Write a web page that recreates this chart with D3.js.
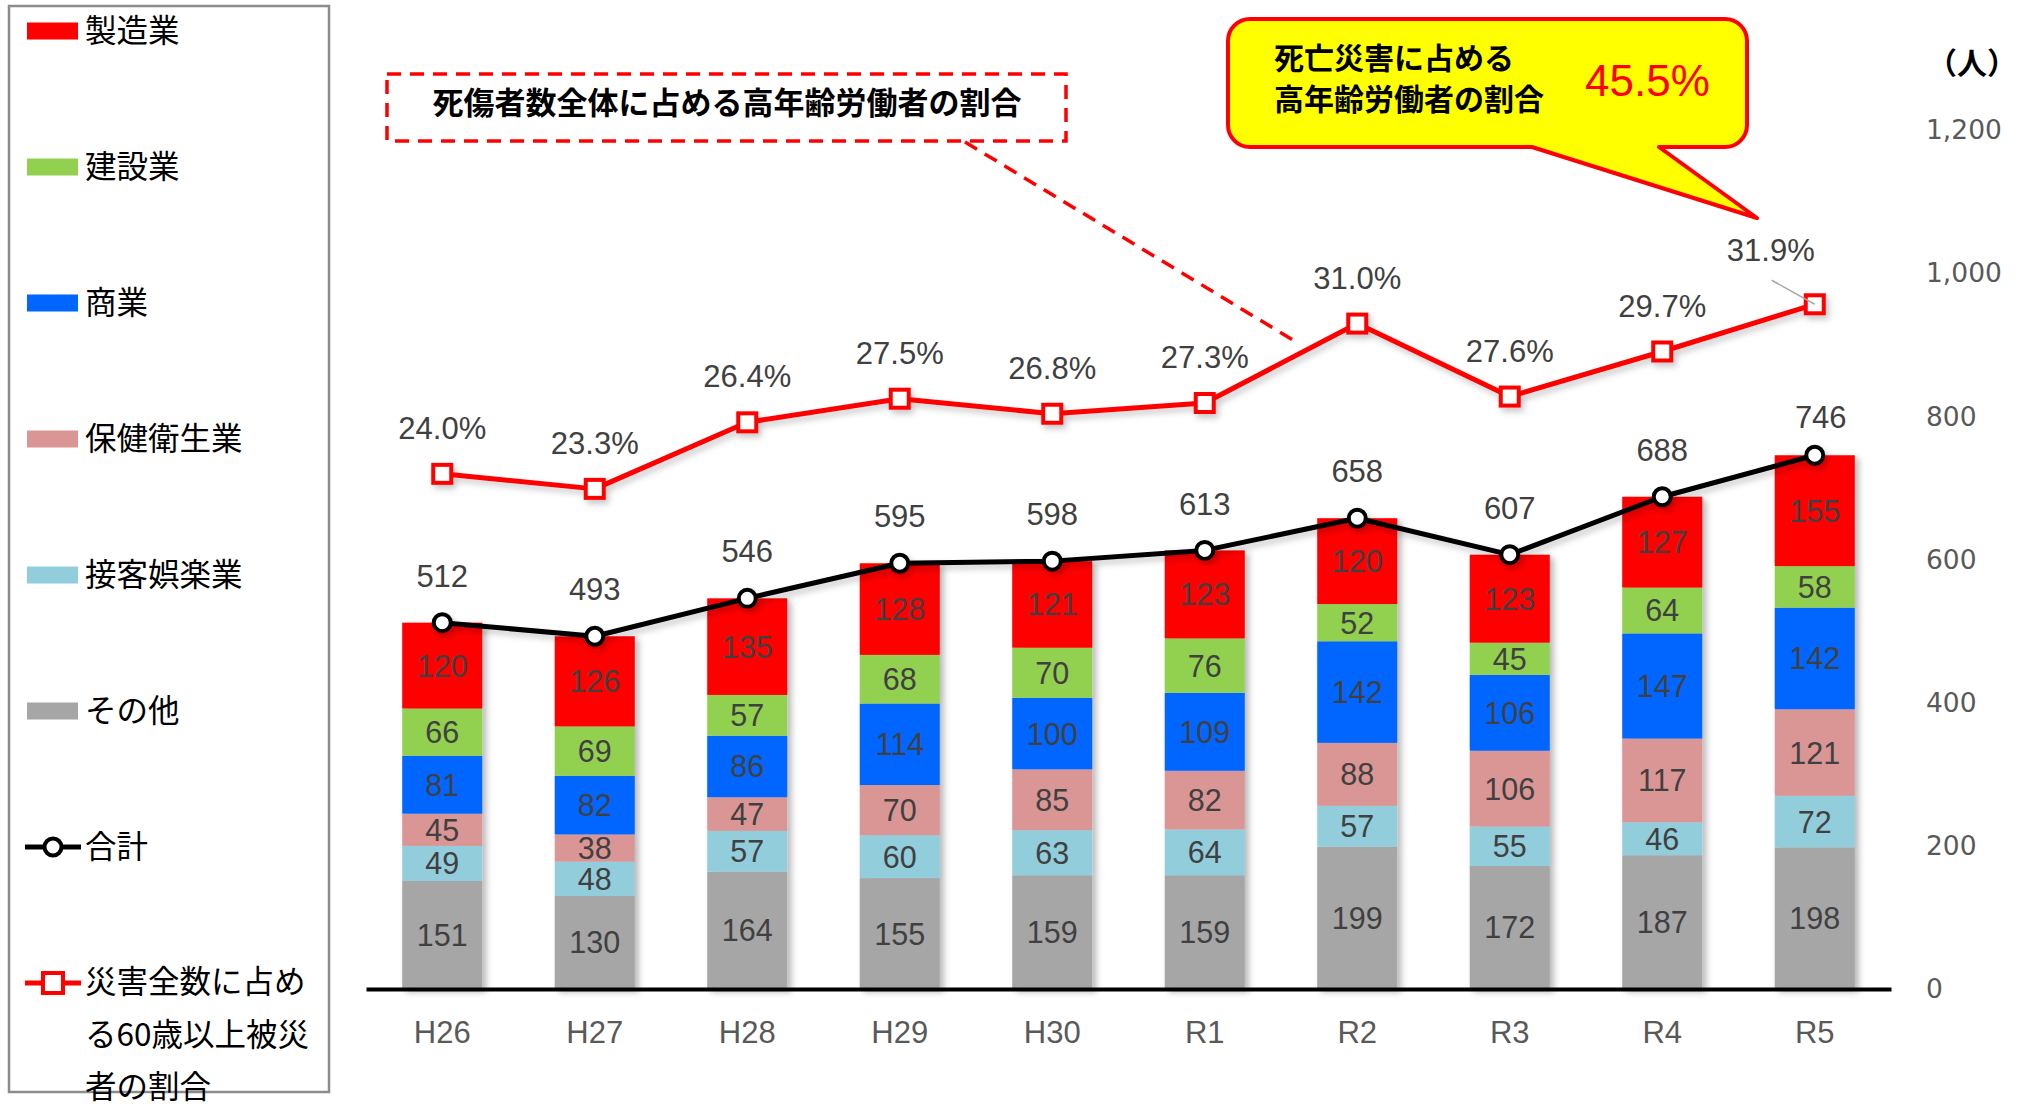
<!DOCTYPE html>
<html>
<head>
<meta charset="utf-8">
<script src="https://cdn.jsdelivr.net/npm/d3@7"></script>
<style>
  html, body { margin: 0; padding: 0; background: #fff; }
  svg { display: block; }
  .jp { font-family: "Noto Sans CJK JP", "Noto Sans", sans-serif; }
  .num { font-family: "Liberation Sans", Arial, sans-serif; }
</style>
</head>
<body>
<svg id="chart" width="2031" height="1104"></svg>
<script>
// ---------------- data ----------------
const categories = ["H26", "H27", "H28", "H29", "H30", "R1", "R2", "R3", "R4", "R5"];
const seriesNames = ["その他", "接客娯楽業", "保健衛生業", "商業", "建設業", "製造業"];
const other         = [151, 130, 164, 155, 159, 159, 199, 172, 187, 198];
const entertainment = [49, 48, 57, 60, 63, 64, 57, 55, 46, 72];
const health        = [45, 38, 47, 70, 85, 82, 88, 106, 117, 121];
const commerce      = [81, 82, 86, 114, 100, 109, 142, 106, 147, 142];
const construction  = [66, 69, 57, 68, 70, 76, 52, 45, 64, 58];
const manufacturing = [120, 126, 135, 128, 121, 123, 120, 123, 127, 155];
const totals        = [512, 493, 546, 595, 598, 613, 658, 607, 688, 746];
const ratioPct      = [24.0, 23.3, 26.4, 27.5, 26.8, 27.3, 31.0, 27.6, 29.7, 31.9];
const yTicks = [0, 200, 400, 600, 800, 1000, 1200];
const legendLabels = ["製造業", "建設業", "商業", "保健衛生業", "接客娯楽業", "その他", "合計"];
const legendRatioLines = ["災害全数に占め", "る60歳以上被災", "者の割合"];
const boxTitle = "死傷者数全体に占める高年齢労働者の割合";
const calloutLines = ["死亡災害に占める", "高年齢労働者の割合"];
const calloutValue = "45.5%";
const unitLabel = "（人）";

// ---------------- styles ----------------
const colors = {
  "その他": "#A6A6A6",
  "接客娯楽業": "#92CDDC",
  "保健衛生業": "#DA9694",
  "商業": "#0066FF",
  "建設業": "#92D050",
  "製造業": "#FF0000"
};
const seriesArrays = [other, entertainment, health, commerce, construction, manufacturing];

const svg = d3.select("#chart");
const defs = svg.append("defs");
const f1 = defs.append("filter").attr("id", "shadow").attr("x", "-20%").attr("y", "-10%").attr("width", "150%").attr("height", "130%");
f1.append("feDropShadow").attr("dx", 4).attr("dy", 3).attr("stdDeviation", 3).attr("flood-color", "#000").attr("flood-opacity", 0.28);
const f2 = defs.append("filter").attr("id", "lshadow").attr("x", "-10%").attr("y", "-30%").attr("width", "120%").attr("height", "160%");
f2.append("feDropShadow").attr("dx", 3).attr("dy", 4).attr("stdDeviation", 3).attr("flood-color", "#000").attr("flood-opacity", 0.22);

// ---------------- scales ----------------
const x = d3.scaleBand().domain(categories).range([366, 1891]).padding(0);
const cx = c => x(c) + x.bandwidth() / 2;
const barW = x.bandwidth() * 0.525;
const y = d3.scaleLinear().domain([0, 1200]).range([989, 130.4]);
const y2 = d3.scaleLinear().domain([0, 40]).range([989, 130.4]);

// rows for stack
const rows = categories.map((c, i) => {
  const r = { cat: c };
  seriesNames.forEach((s, k) => r[s] = seriesArrays[k][i]);
  return r;
});
const stacked = d3.stack().keys(seriesNames)(rows);

// ---------------- bars ----------------
const barsG = svg.append("g").attr("filter", "url(#shadow)");
stacked.forEach(layer => {
  barsG.append("g").attr("fill", colors[layer.key])
    .selectAll("rect").data(layer).join("rect")
    .attr("x", d => cx(d.data.cat) - barW / 2)
    .attr("y", d => y(d[1]))
    .attr("width", barW)
    .attr("height", d => y(d[0]) - y(d[1]));
});
// segment labels
const segLabels = svg.append("g").attr("class", "num").attr("font-size", 30.5).attr("fill", "#404040").attr("text-anchor", "middle");
stacked.forEach(layer => {
  segLabels.selectAll(null).data(layer).join("text")
    .attr("x", d => cx(d.data.cat))
    .attr("y", d => (y(d[0]) + y(d[1])) / 2)
    .attr("dy", "0.36em")
    .text(d => d[1] - d[0]);
});

// ---------------- axes ----------------
const xAxis = svg.append("g").attr("transform", `translate(0,${y(0)})`)
  .call(d3.axisBottom(x).tickSize(0).tickSizeOuter(0).tickPadding(32));
xAxis.select(".domain").attr("stroke", "#000").attr("stroke-width", 4);
xAxis.selectAll("text").attr("class", "num").attr("font-size", 31).attr("fill", "#595959");

const yAxis = svg.append("g").attr("transform", "translate(1916,0)")
  .call(d3.axisRight(y).tickValues(yTicks).tickFormat(d3.format(",")).tickSize(0).tickPadding(10));
yAxis.select(".domain").remove();
yAxis.selectAll("text").attr("font-family", "'DejaVu Sans', sans-serif").attr("font-size", 26.5).attr("fill", "#595959");

svg.append("text").attr("class", "jp").attr("x", 1927).attr("y", 63).attr("dy", "0.35em")
  .attr("font-size", 30).attr("font-weight", "bold").attr("fill", "#000").text(unitLabel);

// ---------------- ratio line (secondary axis 0–40%) ----------------
const ratioLine = d3.line().x((d, i) => cx(categories[i])).y(d => y2(d));
const ratioG = svg.append("g").attr("filter", "url(#lshadow)");
ratioG.append("path").datum(ratioPct).attr("d", ratioLine)
  .attr("fill", "none").attr("stroke", "#FF0000").attr("stroke-width", 5).attr("stroke-linejoin", "round");
ratioG.selectAll("rect").data(ratioPct).join("rect")
  .attr("x", (d, i) => cx(categories[i]) - 9).attr("y", d => y2(d) - 9)
  .attr("width", 18).attr("height", 18)
  .attr("fill", "#fff").attr("stroke", "#FF0000").attr("stroke-width", 4);

// ---------------- total line ----------------
const totalLine = d3.line().x((d, i) => cx(categories[i])).y(d => y(d));
const totG = svg.append("g").attr("filter", "url(#lshadow)");
totG.append("path").datum(totals).attr("d", totalLine)
  .attr("fill", "none").attr("stroke", "#000").attr("stroke-width", 5).attr("stroke-linejoin", "round");
totG.selectAll("circle").data(totals).join("circle")
  .attr("cx", (d, i) => cx(categories[i])).attr("cy", d => y(d)).attr("r", 8.5)
  .attr("fill", "#fff").attr("stroke", "#000").attr("stroke-width", 4);

// total labels
const last = ratioPct.length - 1;
svg.append("g").attr("class", "num").attr("font-size", 31).attr("fill", "#404040").attr("text-anchor", "middle")
  .selectAll("text").data(totals).join("text")
  .attr("x", (d, i) => cx(categories[i]) + (i === last ? 6 : 0))
  .attr("y", (d, i) => y(d) - (i === last ? 38 : 47)).attr("dy", "0.36em")
  .text(d => d);

// ratio labels
svg.append("g").attr("class", "num").attr("font-size", 31).attr("fill", "#404040").attr("text-anchor", "middle")
  .selectAll("text").data(ratioPct).join("text")
  .attr("x", (d, i) => cx(categories[i]) - (i === last ? 44 : 0))
  .attr("y", (d, i) => y2(d) - (i === last ? 54 : 46)).attr("dy", "0.36em")
  .text(d => d.toFixed(1) + "%");
// leader line for last ratio label
svg.append("line")
  .attr("x1", cx(categories[last]) - 43).attr("y1", y2(ratioPct[last]) - 24)
  .attr("x2", cx(categories[last])).attr("y2", y2(ratioPct[last]))
  .attr("stroke", "#A6A6A6").attr("stroke-width", 1.5);

// ---------------- dashed title box ----------------
svg.append("rect").attr("x", 387).attr("y", 74).attr("width", 679).attr("height", 67)
  .attr("fill", "#fff").attr("stroke", "#FF0000").attr("stroke-width", 3.5).attr("stroke-dasharray", "14 9");
svg.append("text").attr("class", "jp").attr("x", 727).attr("y", 103).attr("dy", "0.35em")
  .attr("text-anchor", "middle").attr("font-size", 31).attr("font-weight", "bold").attr("fill", "#000")
  .text(boxTitle);
svg.append("line").attr("x1", 965).attr("y1", 142).attr("x2", 1298).attr("y2", 343)
  .attr("stroke", "#FF0000").attr("stroke-width", 3.5).attr("stroke-dasharray", "14 9");

// ---------------- yellow callout ----------------
{
  const L = 1228, T = 19, R = 1747, B = 147, r = 22;
  const tailL = 1532, tailR = 1659, tipX = 1757, tipY = 218;
  const p = d3.path();
  p.moveTo(L + r, T);
  p.lineTo(R - r, T);
  p.arcTo(R, T, R, T + r, r);
  p.lineTo(R, B - r);
  p.arcTo(R, B, R - r, B, r);
  p.lineTo(tailR, B);
  p.lineTo(tipX, tipY);
  p.lineTo(tailL, B);
  p.lineTo(L + r, B);
  p.arcTo(L, B, L, B - r, r);
  p.lineTo(L, T + r);
  p.arcTo(L, T, L + r, T, r);
  p.closePath();
  svg.append("path").attr("d", p.toString()).attr("fill", "#FFFF00")
    .attr("stroke", "#FF0000").attr("stroke-width", 4).attr("stroke-linejoin", "round");
  svg.append("g").attr("class", "jp").attr("font-size", 30).attr("font-weight", "bold").attr("fill", "#000")
    .selectAll("text").data(calloutLines).join("text")
    .attr("x", 1274).attr("y", (d, i) => 58 + i * 41).attr("dy", "0.35em").text(d => d);
  svg.append("text").attr("class", "num").attr("x", 1585).attr("y", 80).attr("dy", "0.36em")
    .attr("font-size", 44).attr("fill", "#FF0000").text(calloutValue);
}

// ---------------- legend ----------------
const leg = svg.append("g");
leg.append("rect").attr("x", 9).attr("y", 6).attr("width", 320).attr("height", 1086)
  .attr("fill", "#fff").attr("stroke", "#8C8C8C").attr("stroke-width", 2.5);
const legY = i => 31 + i * 136;
const swatchOrder = ["製造業", "建設業", "商業", "保健衛生業", "接客娯楽業", "その他"];
swatchOrder.forEach((s, i) => {
  leg.append("rect").attr("x", 27).attr("y", legY(i) - 8.5).attr("width", 51).attr("height", 17).attr("fill", colors[s]);
});
leg.append("g").attr("class", "jp").attr("font-size", 31.5).attr("fill", "#000")
  .selectAll("text").data(legendLabels).join("text")
  .attr("x", 85).attr("y", (d, i) => legY(i)).attr("dy", "0.35em").text(d => d);
// total symbol
leg.append("line").attr("x1", 25).attr("x2", 81).attr("y1", legY(6)).attr("y2", legY(6)).attr("stroke", "#000").attr("stroke-width", 5);
leg.append("circle").attr("cx", 53).attr("cy", legY(6)).attr("r", 8.5).attr("fill", "#fff").attr("stroke", "#000").attr("stroke-width", 4);
// ratio symbol
leg.append("line").attr("x1", 25).attr("x2", 81).attr("y1", legY(7)).attr("y2", legY(7)).attr("stroke", "#FF0000").attr("stroke-width", 5);
leg.append("rect").attr("x", 43).attr("y", legY(7) - 10).attr("width", 20).attr("height", 20).attr("fill", "#fff").attr("stroke", "#FF0000").attr("stroke-width", 4);
leg.append("g").attr("class", "jp").attr("font-size", 31.5).attr("fill", "#000")
  .selectAll("text").data(legendRatioLines).join("text")
  .attr("x", 85).attr("y", (d, i) => legY(7) - 1 + i * 52.5).attr("dy", "0.35em").text(d => d);
</script>
</body>
</html>
